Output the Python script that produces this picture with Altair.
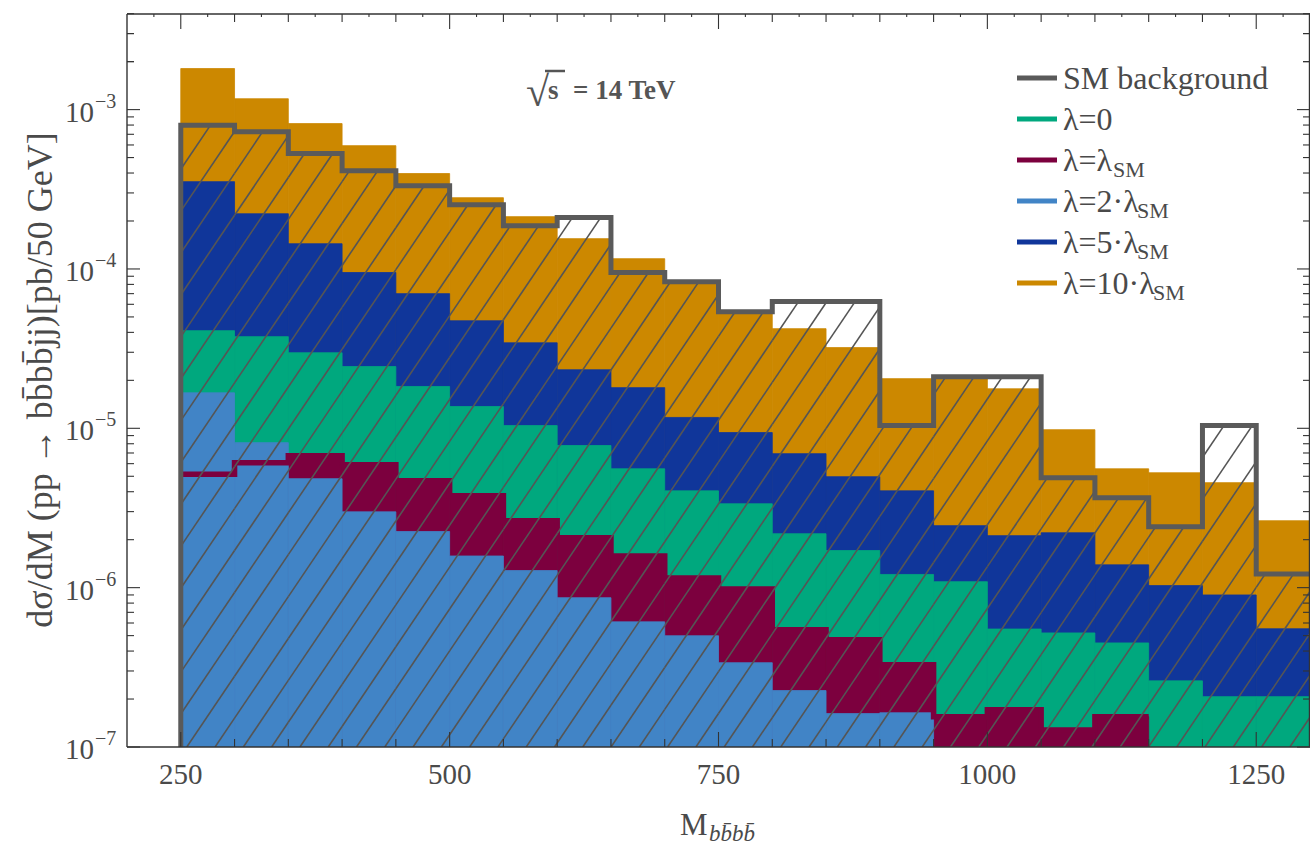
import altair as alt
import numpy as np
import pandas as pd

# ---------------- data ----------------
bin_lo = [250, 300, 350, 400, 450, 500, 550, 600, 650, 700, 750,
          800, 850, 900, 950, 1000, 1050, 1100, 1150, 1200, 1250]
BIN_W = 50

sm_background = [7.99e-4, 7.27e-4, 5.30e-4, 4.14e-4, 3.33e-4, 2.53e-4, 1.87e-4,
                 2.10e-4, 9.5e-5, 8.3e-5, 5.39e-5, 6.24e-5, 6.24e-5, 1.04e-5,
                 2.11e-5, 2.11e-5, 4.90e-6, 3.67e-6, 2.41e-6, 1.04e-5, 1.22e-6]
lam10 = [1.81e-3, 1.17e-3, 8.17e-4, 5.94e-4, 3.97e-4, 2.80e-4, 2.13e-4,
         1.55e-4, 1.16e-4, 8.2e-5, 5.3e-5, 4.22e-5, 3.21e-5, 2.05e-5,
         2.05e-5, 1.77e-5, 9.8e-6, 5.57e-6, 5.26e-6, 4.56e-6, 2.63e-6]
lam5 = [3.53e-4, 2.22e-4, 1.44e-4, 9.5e-5, 7.0e-5, 4.73e-5, 3.44e-5,
        2.33e-5, 1.80e-5, 1.17e-5, 9.4e-6, 6.93e-6, 4.97e-6, 4.05e-6,
        2.45e-6, 2.12e-6, 2.21e-6, 1.39e-6, 1.03e-6, 9.0e-7, 5.52e-7]
lam0 = [4.1e-5, 3.76e-5, 2.98e-5, 2.44e-5, 1.83e-5, 1.37e-5, 1.04e-5,
        7.8e-6, 5.57e-6, 4.05e-6, 3.36e-6, 2.18e-6, 1.71e-6, 1.21e-6,
        1.09e-6, 5.5e-7, 5.2e-7, 4.5e-7, 2.6e-7, 2.07e-7, 2.07e-7]
lam1 = [5.15e-6, 6.08e-6, 6.73e-6, 5.9e-6, 4.69e-6, 3.78e-6, 2.63e-6,
        2.06e-6, 1.58e-6, 1.15e-6, 9.8e-7, 5.45e-7, 4.71e-7, 3.28e-7,
        1.55e-7, 1.71e-7, 1.28e-7, 1.55e-7, None, None, None]
lam2 = [1.67e-5, 8.13e-6, 4.83e-6, 2.99e-6, 2.25e-6, 1.58e-6, 1.28e-6,
        8.65e-7, 6.1e-7, 4.99e-7, 3.38e-7, 2.26e-7, 1.62e-7, 1.64e-7,
        None, None, None, None, None, None, None]

series_names = ["λ=10·λSM", "λ=5·λSM", "λ=0", "λ=λSM", "λ=2·λSM"]
series_values = [lam10, lam5, lam0, lam1, lam2]
series_colors = ["#cc8800", "#10369a", "#00a87e", "#7c003e", "#4184c6"]
SM_COLOR = "#5a5a5a"

legend_labels = ["SM background", "λ=0", "λ=λ", "λ=2·λ", "λ=5·λ", "λ=10·λ"]
legend_subs = ["", "", "SM", "SM", "SM", "SM"]
legend_colors = [SM_COLOR, "#00a87e", "#7c003e", "#4184c6", "#10369a", "#cc8800"]

x_major = [250, 500, 750, 1000, 1250]
x_labels = ["250", "500", "750", "1000", "1250"]
x_mid = [v for v in range(300, 1300, 50) if v not in x_major]
x_small = list(range(225, 1300, 50))
y_major = [1e-7, 1e-6, 1e-5, 1e-4, 1e-3]
y_exponents = ["−7", "−6", "−5", "−4", "−3"]
y_minor = [m * 10.0 ** e for e in range(-7, -2) for m in range(2, 10)] + [2e-3, 3e-3]

YMIN = 1e-7
YMAX = 10 ** -2.4
XMIN, XMAX = 200, 1300

W, H = 1183, 733
SERIF = "Liberation Serif, DejaVu Serif, serif"
TXT = "#4a4a4a"

xs = alt.Scale(domain=[XMIN, XMAX], nice=False, zero=False)
ys = alt.Scale(type="log", domain=[YMIN, YMAX], nice=False)


def X(f):
    return alt.X(f, scale=xs, axis=None)


def Y(f):
    return alt.Y(f, scale=ys, axis=None)


# ---------------- tables ----------------
rows = []
for name, vals in zip(series_names, series_values):
    for lo, v in zip(bin_lo, vals):
        if v is None:
            continue
        rows.append(dict(series=name, lo=lo, hi=lo + BIN_W, v=v, base=YMIN))
fills = pd.DataFrame(rows)

sm_pts = [dict(o=0, x=bin_lo[0], v=YMIN)]
for lo, v in zip(bin_lo, sm_background):
    sm_pts.append(dict(o=len(sm_pts), x=lo, v=v))
    sm_pts.append(dict(o=len(sm_pts), x=lo + BIN_W, v=v))
sm_df = pd.DataFrame(sm_pts)

mr_pts = []
for lo, v in zip(bin_lo, lam1):
    if v is None:
        break
    mr_pts.append(dict(o=len(mr_pts), x=lo, v=v))
    mr_pts.append(dict(o=len(mr_pts), x=lo + BIN_W, v=v))
mr_df = pd.DataFrame(mr_pts)

# hatching of the SM-background histogram (straight lines on screen)
K = 0.01        # decades per GeV along a hatch line
SPACING = 26.3  # GeV between hatch lines
PHASE = 255.6
segs = []
for n in range(-25, 50):
    c = PHASE + n * SPACING
    for lo, v in zip(bin_lo, sm_background):
        hi = lo + BIN_W
        top = np.log10(v)
        u0 = max(lo, c)
        u1 = min(hi, c + (top + 7) / K)
        if u1 > u0 + 1e-9:
            segs.append(dict(x=u0, x2=u1, y=10 ** (-7 + K * (u0 - c)),
                             y2=10 ** (-7 + K * (u1 - c))))
hatch = pd.DataFrame(segs)

# ---------------- layers ----------------
col_scale = alt.Scale(domain=series_names, range=series_colors)
bars = alt.Chart(fills).mark_rect(clip=True, strokeWidth=0.8).encode(
    x=X("lo:Q"), x2="hi:Q", y=Y("v:Q"), y2="base:Q",
    color=alt.Color("series:N", scale=col_scale, legend=None),
    stroke=alt.Stroke("series:N", scale=col_scale, legend=None),
)

maroon_line = alt.Chart(mr_df).mark_line(color="#7c003e", strokeWidth=5.5, clip=True,
                                         strokeJoin="miter", strokeCap="butt").encode(
    x=X("x:Q"), y=Y("v:Q"), order="o:Q")

hatch_layer = alt.Chart(hatch).mark_rule(color="#555555", strokeWidth=1.6, clip=True).encode(
    x=X("x:Q"), x2="x2:Q", y=Y("y:Q"), y2="y2:Q")

sm_line = alt.Chart(sm_df).mark_line(color=SM_COLOR, strokeWidth=5, clip=True,
                                     strokeJoin="miter", strokeCap="butt").encode(
    x=X("x:Q"), y=Y("v:Q"), order="o:Q")

TICK = "#333333"


def ytick(vals, x0, x1):
    return alt.Chart(pd.DataFrame({"v": vals})).mark_rule(color=TICK, strokeWidth=1.1).encode(
        y=Y("v:Q"), x=alt.value(x0), x2=alt.value(x1))


def xtick(vals, y0, y1):
    return alt.Chart(pd.DataFrame({"v": vals})).mark_rule(color=TICK, strokeWidth=1.1).encode(
        x=X("v:Q"), y=alt.value(y0), y2=alt.value(y1))


ticks = [
    ytick(y_major, 0, 13), ytick(y_minor, 0, 7),
    ytick(y_major, W - 13, W), ytick(y_minor, W - 7, W),
    xtick(x_major, H - 15, H), xtick(x_mid, H - 8, H),
    xtick(x_major, 0, 15), xtick(x_mid, 0, 8), xtick(x_small, 0, 3),
]

frame_df = pd.DataFrame({"k": [0]})
frame = [
    alt.Chart(frame_df).mark_rule(color="#333333", strokeWidth=1.4).encode(
        x=alt.value(0), x2=alt.value(W), y=alt.value(0)),
    alt.Chart(frame_df).mark_rule(color="#333333", strokeWidth=1.4).encode(
        x=alt.value(0), x2=alt.value(W), y=alt.value(H)),
    alt.Chart(frame_df).mark_rule(color="#333333", strokeWidth=1.4).encode(
        x=alt.value(0), y=alt.value(0), y2=alt.value(H)),
    alt.Chart(frame_df).mark_rule(color="#333333", strokeWidth=1.4).encode(
        x=alt.value(W - 0.5), y=alt.value(0), y2=alt.value(H)),
]

# tick labels
xlab_df = pd.DataFrame({"v": x_major, "t": x_labels})
xlabels = alt.Chart(xlab_df).mark_text(font=SERIF, fontSize=29, align="center", baseline="top",
                                       color=TXT).encode(x=X("v:Q"), y=alt.value(H + 14), text="t:N")
ylab_df = pd.DataFrame({"v": y_major, "base": ["10"] * len(y_major), "e": y_exponents})
ylab_base = alt.Chart(ylab_df).mark_text(font=SERIF, fontSize=29, align="right", baseline="middle",
                                         color=TXT, dy=3).encode(
    y=Y("v:Q"), x=alt.value(-33), text="base:N")
ylab_exp = alt.Chart(ylab_df).mark_text(font=SERIF, fontSize=20, align="left", baseline="middle",
                                        color=TXT, dy=-8).encode(
    y=Y("v:Q"), x=alt.value(-32), text="e:N")

# ---------------- legend (custom, for subscripts) ----------------
char_w = {"λ": 0.5, "=": 0.564, "0": 0.5, "1": 0.5, "2": 0.5, "5": 0.5, "·": 0.25}
LEG_FS = 32
leg_rows = []
for i, (lab, sub, col) in enumerate(zip(legend_labels, legend_subs, legend_colors)):
    yy = 64 + 41 * i
    wid = sum(char_w.get(ch, 0.5) for ch in lab) * LEG_FS
    leg_rows.append(dict(lab=lab, sub=sub, col=col, y=yy, ty=yy + 11, sy=yy + 17,
                         x0=890, x1=930, tx=936, sx=936 + wid))
leg = pd.DataFrame(leg_rows)

leg_lines = alt.Chart(leg).mark_rule(strokeWidth=5).encode(
    x=alt.X("x0:Q", scale=None, axis=None), x2="x1:Q",
    y=alt.Y("y:Q", scale=None, axis=None),
    color=alt.Color("col:N", scale=None, legend=None))
leg_text = alt.Chart(leg).mark_text(font=SERIF, fontSize=LEG_FS, align="left",
                                    baseline="alphabetic", color=TXT).encode(
    x=alt.X("tx:Q", scale=None, axis=None), y=alt.Y("ty:Q", scale=None, axis=None), text="lab:N")
leg_sub = alt.Chart(leg).mark_text(font=SERIF, fontSize=22, align="left",
                                   baseline="alphabetic", color=TXT).encode(
    x=alt.X("sx:Q", scale=None, axis=None), y=alt.Y("sy:Q", scale=None, axis=None), text="sub:N")

# ---------------- annotations / titles ----------------
ann_df = pd.DataFrame({"root": ["√"], "s": ["s"], "rest": ["= 14 TeV"]})
ANN = "#555555"
root = alt.Chart(ann_df).mark_text(font=SERIF, fontSize=42, align="left",
                                   baseline="alphabetic", color=ANN).encode(
    x=alt.value(399), y=alt.value(92), text="root:N")
root_s = alt.Chart(ann_df).mark_text(font=SERIF, fontSize=27, fontWeight="bold", align="left",
                                     baseline="alphabetic", color=ANN).encode(
    x=alt.value(421), y=alt.value(85), text="s:N")
root_bar = alt.Chart(ann_df).mark_rule(color=ANN, strokeWidth=2.5).encode(
    x=alt.value(418), x2=alt.value(438), y=alt.value(57))
root_rest = alt.Chart(ann_df).mark_text(font=SERIF, fontSize=27, fontWeight="bold", align="left",
                                        baseline="alphabetic", color=ANN).encode(
    x=alt.value(446), y=alt.value(85), text="rest:N")

ytitle_df = pd.DataFrame({"t": ["dσ/dM (pp → bb̄bb̄jj)[pb/50 GeV]"]})
ytitle = alt.Chart(ytitle_df).mark_text(font=SERIF, fontSize=36, angle=270, align="center",
                                        baseline="middle", color=TXT).encode(
    x=alt.value(-86), y=alt.value(366), text="t:N")

xt_df = pd.DataFrame({"t": ["M"], "s": ["bb̄bb̄"]})
xtitle_m = alt.Chart(xt_df).mark_text(font=SERIF, fontSize=31, align="left",
                                      baseline="alphabetic", color=TXT).encode(
    x=alt.value(553), y=alt.value(821), text="t:N")
xtitle_s = alt.Chart(xt_df).mark_text(font=SERIF, fontSize=23, fontStyle="italic", align="left",
                                      baseline="alphabetic", color=TXT).encode(
    x=alt.value(582), y=alt.value(827), text="s:N")

chart = alt.layer(
    bars, maroon_line, hatch_layer, sm_line, *ticks, *frame,
    xlabels, ylab_base, ylab_exp,
    leg_lines, leg_text, leg_sub, root, root_s, root_bar, root_rest,
    ytitle, xtitle_m, xtitle_s,
).properties(
    width=W, height=H,
    autosize=alt.AutoSizeParams(type="none"),
    padding={"left": 127, "top": 14, "right": 0, "bottom": 100},
    background="white",
).configure_view(stroke=None)

chart.save("out.html", embed_options={"renderer": "svg", "actions": False})
